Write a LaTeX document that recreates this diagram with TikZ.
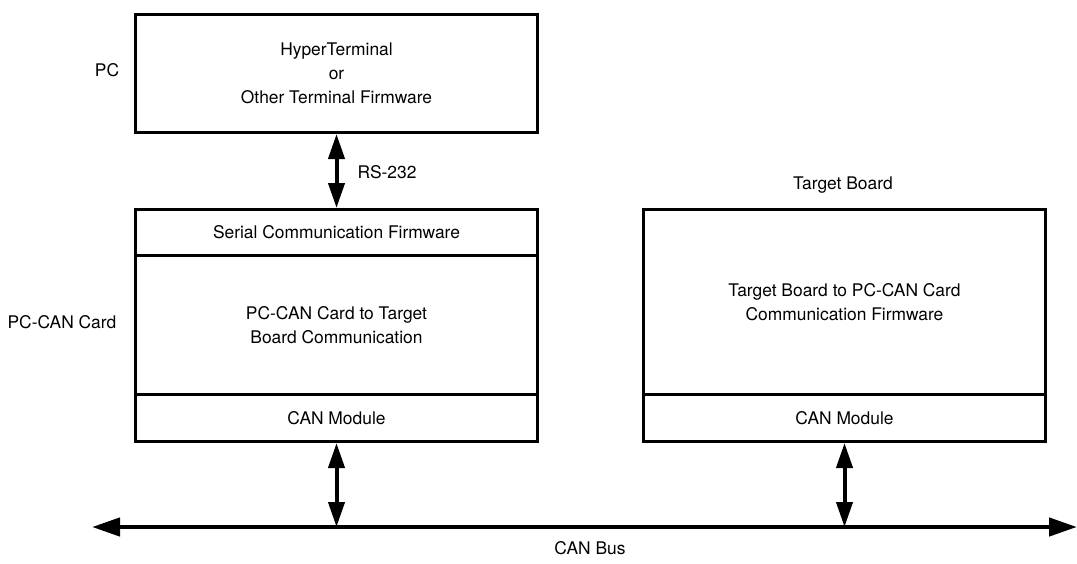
\documentclass[tikz,border=0pt]{standalone}
\usepackage{fontspec}
\setmainfont{TeX Gyre Heros}
\usetikzlibrary{arrows.meta}

\begin{document}
\begin{tikzpicture}[
  x=0.5pt, y=-0.5pt,
  font=\fontsize{8.7}{12}\selectfont,
  block/.style={draw, line width=1.5pt, minimum width=201pt, anchor=north west, inner sep=0pt, align=center},
  link/.style={{Triangle[length=12.5pt,width=8pt]}-{Triangle[length=12.5pt,width=8pt]}, line width=2pt},
  bus/.style={{Triangle[length=14pt,width=9pt]}-{Triangle[length=14pt,width=9pt]}, line width=2.2pt},
  label/.style={align=center}
]
\useasboundingbox (0,0) rectangle (1077,563);

% PC
\node[block, minimum height=59pt] (pc) at (134,13) {HyperTerminal\\or\\Other Terminal Firmware};
\node[label] (pclabel) at (107,70) {PC};

% PC-CAN card
\node[block, minimum height=23pt] (serial) at (134,208) {Serial Communication Firmware};
\node[block, minimum height=69.5pt] (pccomm) at (134,254) {PC-CAN Card to Target\\Board Communication};
\node[block, minimum height=23.5pt] (pccan) at (134,393) {CAN Module};
\node[label] (cardlabel) at (62,322) {PC-CAN Card};

% Target board
\node[block, minimum height=92.5pt] (tgcomm) at (642,208) {Target Board to PC-CAN Card\\Communication Firmware};
\node[block, minimum height=23.5pt] (tgcan) at (642,393) {CAN Module};
\node[label] (tglabel) at (843,185) {Target Board};

% bus
\coordinate (busL) at (92,527);
\coordinate (busR) at (1077,527);
\draw[bus] (busL) -- (busR);
\node[label] (buslabel) at (590,548) {CAN Bus};

% links
\draw[link] (pc.south) -- (serial.north);
\node[label] (rslabel) at (387,172) {RS-232};
\draw[link] (pccan.south) -- (pccan.south |- busL);
\draw[link] (tgcan.south) -- (tgcan.south |- busL);

\end{tikzpicture}
\end{document}
